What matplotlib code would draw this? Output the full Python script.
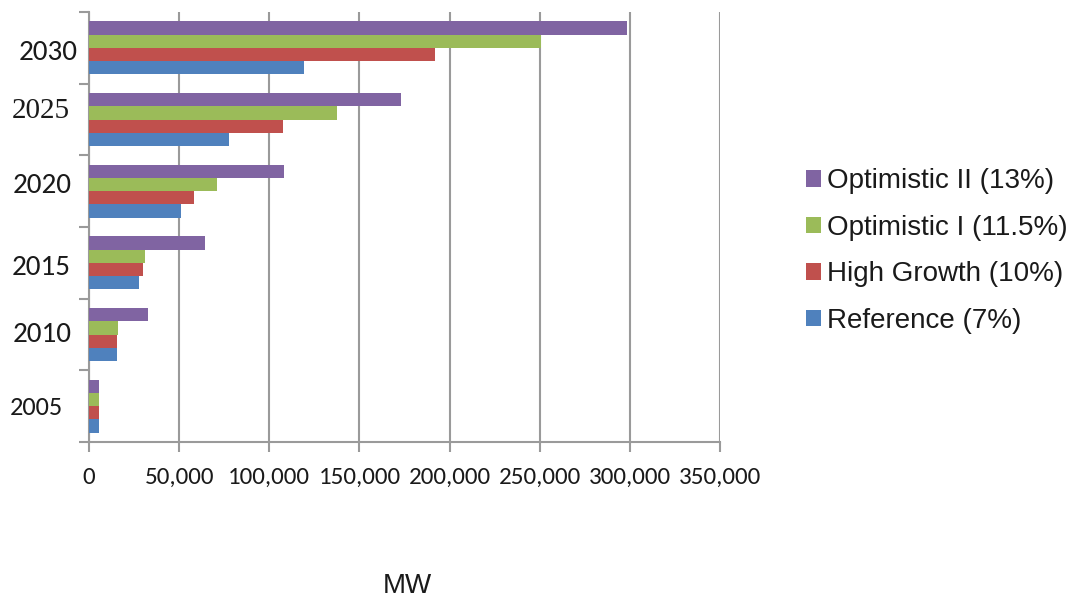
import matplotlib
matplotlib.use("Agg")
import matplotlib.pyplot as plt
from matplotlib import font_manager
from matplotlib.transforms import ScaledTranslation
import numpy as np

years = ['2005', '2010', '2015', '2020', '2025', '2030']
reference = [5500, 15500, 28000, 50800, 77600, 119400]
high_growth = [5500, 15600, 30000, 58300, 107600, 192000]
optimistic_1 = [5500, 16000, 31000, 71000, 137600, 250500]
optimistic_2 = [5500, 33000, 64500, 108000, 173000, 298500]
series_names = ['Reference (7%)', 'High Growth (10%)', 'Optimistic I (11.5%)', 'Optimistic II (13%)']
series_colors = ['#4F81BD', '#C0504D', '#9BBB59', '#8064A2']
x_ticks = [0, 50000, 100000, 150000, 200000, 250000, 300000, 350000]
x_label = 'MW'

available = {f.name for f in font_manager.fontManager.ttflist}
if 'Carlito' in available:
    tick_font, tick_size, ylab_size, ylab_small = 'Carlito', 18, 21, 19
else:
    tick_font, tick_size, ylab_size, ylab_small = 'Liberation Sans', 15.5, 18, 16.5
serif_font = 'Liberation Serif' if 'Liberation Serif' in available else 'DejaVu Serif'
sans = 'Liberation Sans' if 'Liberation Sans' in available else 'DejaVu Sans'

fig = plt.figure(figsize=(10.74, 5.99), dpi=100)
ax = fig.add_axes([89 / 1074, 1 - 442 / 599, (720 - 89) / 1074, (442 - 12) / 599])

y = np.arange(len(years))
h = 0.185
all_series = [reference, high_growth, optimistic_1, optimistic_2]
offsets = [-1.5, -0.5, 0.5, 1.5]
handles = []
for vals, name, col, off in zip(all_series, series_names, series_colors, offsets):
    b = ax.barh(y + off * h, vals, height=h, color=col, label=name, edgecolor='none', zorder=3)
    handles.append(b)

ax.set_xlim(0, 350000)
ax.set_ylim(-0.5, len(years) - 0.5)

grid_c = '#9A9A9A'
ax.set_xticks(x_ticks)
ax.set_xticklabels([f'{v:,}' for v in x_ticks], fontfamily=tick_font, fontsize=tick_size, color='#1a1a1a')
ax.xaxis.grid(True, color=grid_c, linewidth=1.5, zorder=0)
ax.tick_params(axis='x', direction='out', length=7, width=1.5, color=grid_c, pad=11)

ax.set_yticks(np.arange(-0.5, len(years), 1.0))
ax.set_yticklabels([])
ax.tick_params(axis='y', direction='out', length=7, width=1.5, color=grid_c)

for s in ['top', 'right']:
    ax.spines[s].set_visible(False)
for s in ['left', 'bottom']:
    ax.spines[s].set_color(grid_c)
    ax.spines[s].set_linewidth(1.5)

# year labels (right edge gap px, baseline offset px below category centre, size, family)
label_style = {
    '2030': (11, 12.5, ylab_size, tick_font),
    '2025': (19, -2, ylab_size, serif_font),
    '2020': (17, 2, ylab_size, tick_font),
    '2015': (18, 12.5, ylab_size, tick_font),
    '2010': (17, 8, ylab_size, tick_font),
    '2005': (26, 9, ylab_small, tick_font),
}
base_tr = ax.get_yaxis_transform()
for yi, yr in zip(y, years):
    gap, dy, fs, fam = label_style[yr]
    tr = base_tr + ScaledTranslation(-gap / 100, -dy / 100, fig.dpi_scale_trans)
    ax.text(0, yi, yr, transform=tr, ha='right', va='baseline', fontsize=fs,
            fontfamily=fam, color='#1a1a1a')

leg = fig.legend(handles[::-1], series_names[::-1], loc='center left',
                 bbox_to_anchor=(806 / 1074, 1 - 251 / 599), frameon=False,
                 prop={'family': sans, 'size': 20}, handlelength=0.54, handleheight=0.54,
                 handletextpad=0.22, labelspacing=0.74, borderpad=0, borderaxespad=0)
for t in leg.get_texts():
    t.set_color('#1a1a1a')

fig.text(407 / 1074, 1 - 586 / 599, x_label, ha='center', va='center', fontsize=20,
         fontfamily=sans, color='#1a1a1a')

fig.savefig('out.png', dpi=100)
